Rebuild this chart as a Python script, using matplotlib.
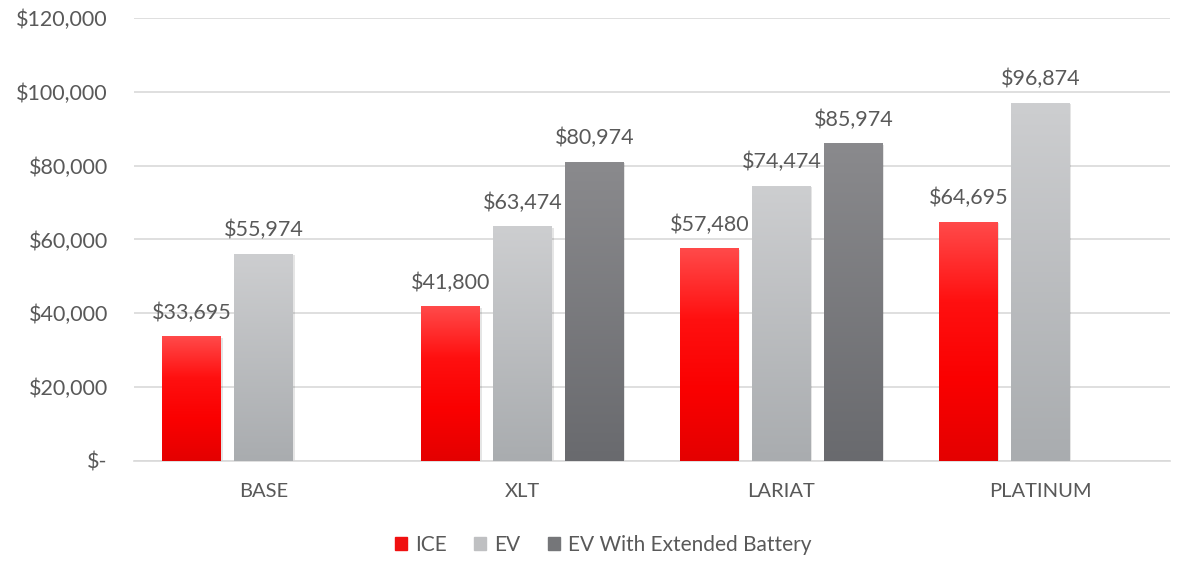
import numpy as np
import matplotlib.pyplot as plt
from matplotlib.colors import LinearSegmentedColormap
from matplotlib.patches import Patch

plt.rcParams["font.family"] = ["Lato", "DejaVu Sans"]
TXT = "#595959"

categories = ["BASE", "XLT", "LARIAT", "PLATINUM"]
series = ["ICE", "EV", "EV With Extended Battery"]
ice = [33695, 41800, 57480, 64695]
ev = [55974, 63474, 74474, 96874]
ev_ext = [np.nan, 80974, 85974, np.nan]

# gradient stops, bottom -> top, for each series
GRAD = [["#E40000", "#FA0000", "#FF1010", "#FF4A4A"],
        ["#A9ACAF", "#CDCED0"],
        ["#696A6E", "#8A8A8D"]]
LEGEND_C = ["#F01010", "#BFC0C2", "#757679"]

fig = plt.figure(figsize=(11.78, 5.62), dpi=100)
ax = fig.add_axes([0.114, 0.180, 0.879, 0.788])

x = np.arange(len(categories))
width, step = 0.227, 0.278
grad = np.linspace(0, 1, 256).reshape(-1, 1)

for i, vals in enumerate([ice, ev, ev_ext]):
    cmap = LinearSegmentedColormap.from_list(f"g{i}", GRAD[i])
    bars = ax.bar(x + (i - 1) * step, vals, width, color="none", zorder=3)
    for b, v in zip(bars, vals):
        if np.isnan(v):
            continue
        x0, w, h = b.get_x(), b.get_width(), b.get_height()
        # soft shadow
        ax.add_patch(plt.Rectangle((x0 + 0.006, 0), w, h - 300, color="#000000",
                                   alpha=0.10, lw=0, zorder=2))
        ax.imshow(grad, cmap=cmap, origin="lower", aspect="auto",
                  extent=(x0, x0 + w, 0, h), zorder=3)
        ax.annotate(f"${v:,.0f}", (x0 + w / 2, h), xytext=(0, 10),
                    textcoords="offset points", ha="center", va="bottom",
                    fontsize=15.5, color=TXT)

ax.set_xlim(-0.5, 3.5)
ax.set_ylim(0, 120000)
ax.set_yticks(np.arange(0, 120001, 20000))
ax.set_yticklabels(["$-"] + [f"${t:,.0f}" for t in range(20000, 120001, 20000)])
ax.set_xticks(x)
ax.set_xticklabels(categories)
ax.tick_params(axis="y", length=0, pad=19, labelsize=15.5, labelcolor=TXT)
ax.tick_params(axis="x", length=0, pad=16, labelsize=14.5, labelcolor=TXT)
ax.grid(axis="y", color="#D9D9D9", lw=1.2, zorder=0)
ax.set_axisbelow(True)
for s in ["top", "right", "left"]:
    ax.spines[s].set_visible(False)
ax.spines["bottom"].set_color("#D9D9D9")
ax.spines["bottom"].set_linewidth(1.2)

handles = [Patch(color=c, label=l) for c, l in zip(LEGEND_C, series)]
fig.legend(handles=handles, loc="center", bbox_to_anchor=(0.512, 0.030), ncol=3,
           frameon=False, fontsize=15, labelcolor=TXT, handlelength=0.58,
           handleheight=0.58, handletextpad=0.4, columnspacing=1.3)

fig.savefig("out.png", dpi=100)
